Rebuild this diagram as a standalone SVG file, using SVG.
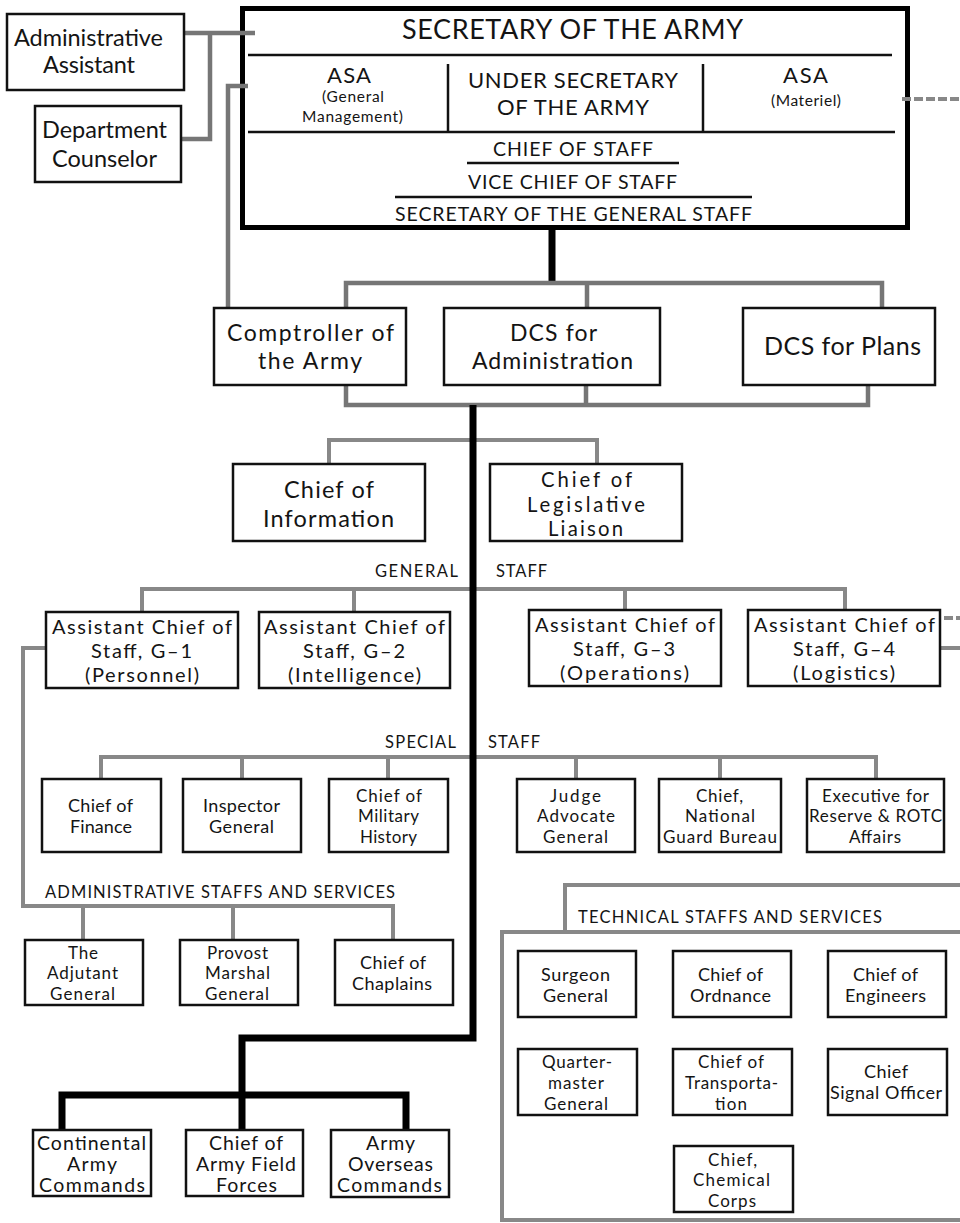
<svg xmlns="http://www.w3.org/2000/svg" width="960" height="1223" viewBox="0 0 960 1223">
<style>
text{font-family:Lato,"Noto Sans","Liberation Sans",sans-serif;fill:#141414;text-anchor:middle}
.box{fill:#fff;stroke:#111;stroke-width:2.5}
.g{fill:none;stroke:#767676;stroke-width:4.5}
.g2{fill:none;stroke:#888;stroke-width:4}
.k{fill:none;stroke:#000;stroke-width:7}
.ln{stroke:#111;stroke-width:2.5}
.t25{font-size:25px}.t23{font-size:23px}.t235{font-size:23.5px}.t22{font-size:22px}.t20{font-size:20px}.t195{font-size:19.5px}.t18{font-size:18px}.t17{font-size:17px}.t155{font-size:15.5px}
.lab{font-size:16.5px;text-anchor:start}
</style>
<rect width="960" height="1223" fill="#fff"/>
<g id="secretary">
<rect x="242.5" y="8.5" width="665" height="219" fill="#fff" stroke="#000" stroke-width="5"/>
<line class="ln" x1="248" y1="55" x2="892" y2="55"/>
<line class="ln" x1="248" y1="132" x2="895" y2="132"/>
<line class="ln" x1="448" y1="64" x2="448" y2="131"/>
<line class="ln" x1="703" y1="64" x2="703" y2="131"/>
<line class="ln" x1="467" y1="163" x2="679" y2="163"/>
<line class="ln" x1="395" y1="197" x2="752" y2="197"/>
<text x="572.5" y="39" style="font-size:27px" textLength="341">SECRETARY OF THE ARMY</text>
<text class="t22" x="349" y="83" textLength="44">ASA</text>
<text class="t155"><tspan x="353" y="102" textLength="62">(General</tspan><tspan x="352.5" y="122" textLength="101">Management)</tspan></text>
<text class="t22"><tspan x="573" y="88" textLength="210">UNDER SECRETARY</tspan><tspan x="573" y="115" textLength="152">OF THE ARMY</tspan></text>
<text class="t22" x="805.5" y="83" textLength="45">ASA</text>
<text class="t155" x="806" y="106" textLength="70">(Materiel)</text>
<text class="t195" x="573" y="156" textLength="160">CHIEF OF STAFF</text>
<text class="t195" x="572.5" y="189" textLength="209">VICE CHIEF OF STAFF</text>
<text class="t195" x="573.5" y="221" textLength="357">SECRETARY OF THE GENERAL STAFF</text>
</g>
<g id="connectors">
<path class="g" d="M185,33 H255 M210,33 V139 H182"/>
<path class="g" d="M248,86 H228 V307"/>
<path class="g2" d="M902,99 H960" stroke-dasharray="9 3"/>
<path class="k" d="M552,230 V283"/>
<path class="g" d="M346,307 V283 H882 V307 M587,283 V307"/>
<path class="g" d="M346,386 V405 H868 V386 M586,386 V405"/>
<path class="g2" d="M329,463 V440 H597 V463"/>
<path class="g2" d="M142,612 V589 H845 V609 M354,589 V612 M625,589 V609"/>
<path class="g2" d="M944,618 H960" stroke-dasharray="9 3"/>
<path class="g2" d="M941,648 H960"/>
<path class="g2" d="M45,648 H23 V906 H393 V939 M83,906 V939 M233,906 V939"/>
<path class="g2" d="M101,778 V757 H876 V778 M242,757 V778 M388,757 V778 M576,757 V778 M720,757 V778"/>
<path class="k" d="M473,405 V1038 H242 V1129 M62,1129 V1095 H406 V1129"/>
</g>
<g id="admin-assistant"><rect class="box" x="7" y="14" width="177" height="76"/><text class="t235"><tspan x="88.5" y="46" textLength="149">Administrative</tspan><tspan x="89" y="73" textLength="92">Assistant</tspan></text></g>
<g id="dept-counselor"><rect class="box" x="35" y="106" width="146" height="76"/><text class="t235"><tspan x="104.5" y="138" textLength="125">Department</tspan><tspan x="104.5" y="167" textLength="105">Counselor</tspan></text></g>
<g id="comptroller"><rect class="box" x="214" y="308" width="192" height="77"/><text class="t23"><tspan x="310.5" y="341" textLength="167">Comptroller of</tspan><tspan x="310" y="369" textLength="104">the Army</tspan></text></g>
<g id="dcs-admin"><rect class="box" x="444" y="308" width="216" height="77"/><text class="t23"><tspan x="553.5" y="341" textLength="87">DCS for</tspan><tspan x="552.5" y="369" textLength="161">Administration</tspan></text></g>
<g id="dcs-plans"><rect class="box" x="743" y="308" width="192" height="77"/><text class="t25" x="842.5" y="355" textLength="157">DCS for Plans</text></g>
<g id="chief-info"><rect class="box" x="233" y="464" width="192" height="77"/><text class="t235"><tspan x="329" y="498" textLength="90">Chief of</tspan><tspan x="328.5" y="527" textLength="131">Information</tspan></text></g>
<g id="chief-legis"><rect class="box" x="490" y="464" width="192" height="77"/><text style="font-size:20.3px"><tspan x="586.5" y="487" textLength="91">Chief of</tspan><tspan x="586" y="511.5" textLength="118">Legislative</tspan><tspan x="585.5" y="536" textLength="75">Liaison</tspan></text></g>
<text class="lab" x="375" y="577" textLength="83">GENERAL</text><text class="lab" x="496" y="577" textLength="51">STAFF</text>
<g id="g1"><rect class="box" x="46" y="612" width="192" height="76"/><text class="t20"><tspan x="142" y="634" textLength="180">Assistant Chief of</tspan><tspan x="141.5" y="658" textLength="101">Staff, G–1</tspan><tspan x="142" y="682" textLength="114">(Personnel)</tspan></text></g>
<g id="g2"><rect class="box" x="259" y="612" width="191" height="76"/><text class="t20"><tspan x="354.5" y="634" textLength="181">Assistant Chief of</tspan><tspan x="354" y="658" textLength="102">Staff, G–2</tspan><tspan x="354.5" y="682" textLength="133">(Intelligence)</tspan></text></g>
<g id="g3"><rect class="box" x="529" y="610" width="192" height="76"/><text class="t20"><tspan x="625" y="632" textLength="180">Assistant Chief of</tspan><tspan x="624" y="656" textLength="102">Staff, G–3</tspan><tspan x="624.5" y="680" textLength="129">(Operations)</tspan></text></g>
<g id="g4"><rect class="box" x="748" y="610" width="192" height="76"/><text class="t20"><tspan x="844.5" y="632" textLength="181">Assistant Chief of</tspan><tspan x="844" y="656" textLength="102">Staff, G–4</tspan><tspan x="844" y="680" textLength="102">(Logistics)</tspan></text></g>
<text class="lab" x="385" y="748" textLength="71">SPECIAL</text><text class="lab" x="488" y="748" textLength="52">STAFF</text>
<g id="finance"><rect class="box" x="42" y="779" width="119" height="73"/><text class="t18"><tspan x="100.5" y="812" textLength="65">Chief of</tspan><tspan x="101" y="833" textLength="62">Finance</tspan></text></g>
<g id="inspector"><rect class="box" x="183" y="779" width="118" height="73"/><text class="t18"><tspan x="241.5" y="812" textLength="77">Inspector</tspan><tspan x="241.5" y="833" textLength="65">General</tspan></text></g>
<g id="history"><rect class="box" x="329" y="779" width="119" height="73"/><text class="t17"><tspan x="389" y="801.5" textLength="66">Chief of</tspan><tspan x="388.5" y="822" textLength="61">Military</tspan><tspan x="388.5" y="842.5" textLength="57">History</tspan></text></g>
<g id="judge"><rect class="box" x="517" y="779" width="118" height="73"/><text class="t17"><tspan x="575.5" y="801.5" textLength="51">Judge</tspan><tspan x="576" y="822" textLength="78">Advocate</tspan><tspan x="575.5" y="842.5" textLength="65">General</tspan></text></g>
<g id="guard"><rect class="box" x="659" y="779" width="122" height="73"/><text class="t17"><tspan x="719.5" y="801.5" textLength="47">Chief,</tspan><tspan x="720" y="822" textLength="70">National</tspan><tspan x="720" y="842.5" textLength="114">Guard Bureau</tspan></text></g>
<g id="reserve"><rect class="box" x="807" y="779" width="137" height="73"/><text class="t17"><tspan x="875.5" y="801.5" textLength="107">Executive for</tspan><tspan x="875.5" y="822" textLength="133">Reserve &amp; ROTC</tspan><tspan x="875" y="842.5" textLength="52">Affairs</tspan></text></g>
<text class="lab" x="45" y="898" textLength="350">ADMINISTRATIVE STAFFS AND SERVICES</text>
<g id="adjutant"><rect class="box" x="25" y="940" width="118" height="65"/><text class="t17"><tspan x="83" y="958.5" textLength="30">The</tspan><tspan x="82.5" y="979" textLength="71">Adjutant</tspan><tspan x="82.5" y="999.5" textLength="65">General</tspan></text></g>
<g id="provost"><rect class="box" x="180" y="940" width="118" height="65"/><text class="t17"><tspan x="237.5" y="958.5" textLength="61">Provost</tspan><tspan x="237.5" y="979" textLength="65">Marshal</tspan><tspan x="237" y="999.5" textLength="64">General</tspan></text></g>
<g id="chaplains"><rect class="box" x="335" y="940" width="118" height="65"/><text class="t18"><tspan x="393" y="969" textLength="66">Chief of</tspan><tspan x="392" y="990" textLength="80">Chaplains</tspan></text></g>
<g id="continental"><rect class="box" x="33" y="1130" width="118" height="66"/><text class="t195"><tspan x="91.5" y="1150" textLength="109">Continental</tspan><tspan x="92" y="1171" textLength="50">Army</tspan><tspan x="92" y="1192" textLength="106">Commands</tspan></text></g>
<g id="field-forces"><rect class="box" x="186" y="1130" width="117" height="66"/><text class="t195"><tspan x="246" y="1150" textLength="74">Chief of</tspan><tspan x="246" y="1171" textLength="100">Army Field</tspan><tspan x="246.5" y="1192" textLength="61">Forces</tspan></text></g>
<g id="overseas"><rect class="box" x="331" y="1130" width="118" height="67"/><text class="t195"><tspan x="390.5" y="1150" textLength="49">Army</tspan><tspan x="390.5" y="1171" textLength="85">Overseas</tspan><tspan x="389.5" y="1192" textLength="105">Commands</tspan></text></g>
<g id="technical">
<path class="g2" d="M565,932 V885 H962 M502,1222 V932 H962 M502,1220 H962"/>
<text class="lab" x="578" y="923" textLength="304">TECHNICAL STAFFS AND SERVICES</text>
</g>
<g id="surgeon"><rect class="box" x="518" y="951" width="118" height="66"/><text class="t18"><tspan x="575.5" y="981" textLength="69">Surgeon</tspan><tspan x="575.5" y="1002" textLength="65">General</tspan></text></g>
<g id="ordnance"><rect class="box" x="673" y="951" width="118" height="66"/><text class="t18"><tspan x="730.5" y="981" textLength="65">Chief of</tspan><tspan x="730.5" y="1002" textLength="81">Ordnance</tspan></text></g>
<g id="engineers"><rect class="box" x="828" y="951" width="118" height="66"/><text class="t18"><tspan x="885.5" y="981" textLength="65">Chief of</tspan><tspan x="885.5" y="1002" textLength="81">Engineers</tspan></text></g>
<g id="quartermaster"><rect class="box" x="518" y="1049" width="119" height="66"/><text class="t17"><tspan x="577" y="1068" textLength="70">Quarter-</tspan><tspan x="576" y="1089" textLength="56">master</tspan><tspan x="576" y="1110" textLength="64">General</tspan></text></g>
<g id="transportation"><rect class="box" x="673" y="1049" width="119" height="66"/><text class="t17"><tspan x="731" y="1068" textLength="66">Chief of</tspan><tspan x="731.5" y="1089" textLength="93">Transporta-</tspan><tspan x="731" y="1110" textLength="32">tion</tspan></text></g>
<g id="signal"><rect class="box" x="828" y="1049" width="119" height="66"/><text class="t18"><tspan x="886" y="1078" textLength="44">Chief</tspan><tspan x="886" y="1099" textLength="112">Signal Officer</tspan></text></g>
<g id="chemical"><rect class="box" x="674" y="1146" width="119" height="66"/><text class="t17"><tspan x="732.5" y="1165.5" textLength="49">Chief,</tspan><tspan x="731.5" y="1186" textLength="77">Chemical</tspan><tspan x="732" y="1206.5" textLength="48">Corps</tspan></text></g>
</svg>
